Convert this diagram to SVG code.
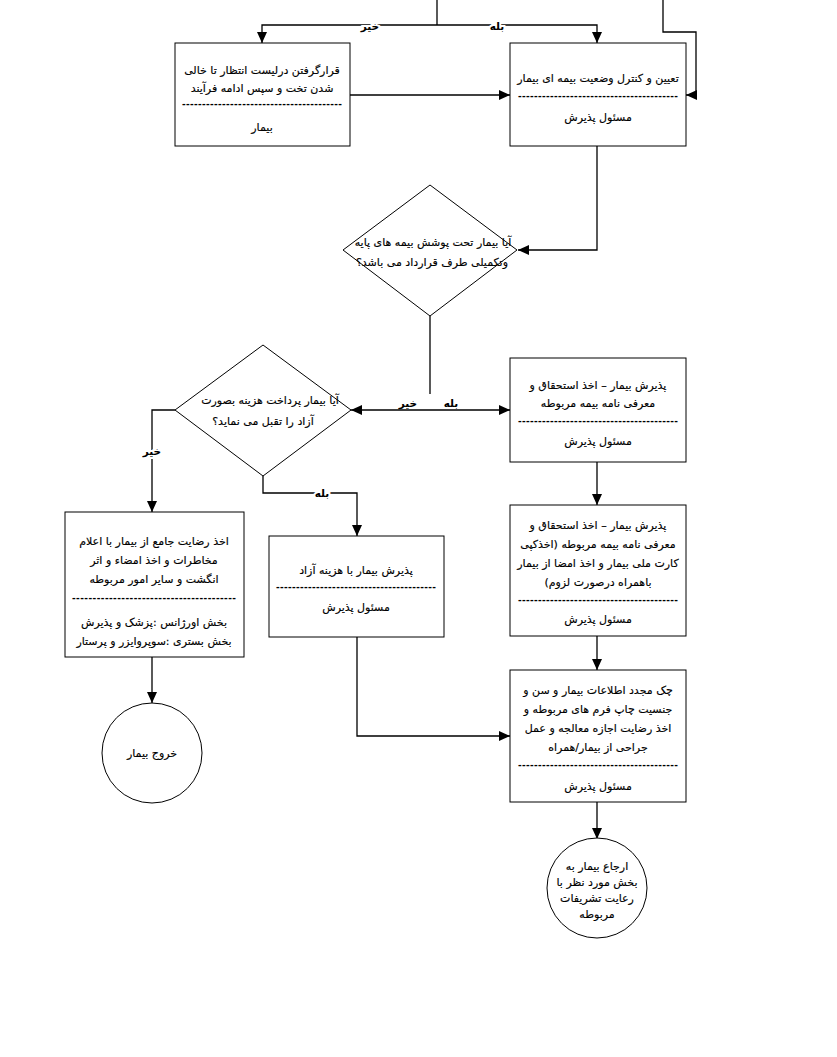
<svg xmlns="http://www.w3.org/2000/svg" width="837" height="1057" viewBox="0 0 837 1057">
<defs>
<style>
.box{fill:#fff;stroke:#000;stroke-width:1}
.t{font-family:"DejaVu Sans",sans-serif;font-size:11px;text-anchor:middle;direction:rtl;fill:#000;stroke:#000;stroke-width:0.15px}
.d{font-family:"Liberation Sans",sans-serif;font-size:11px;font-weight:bold;text-anchor:middle;fill:#000}
.lbl{font-family:"DejaVu Sans",sans-serif;font-size:10.5px;font-weight:bold;text-anchor:middle;direction:rtl;fill:#000}
.halo{paint-order:stroke;stroke:#fff;stroke-width:4px}
.c{fill:none;stroke:#000;stroke-width:1.3}
.a{marker-end:url(#arr)}
</style>
<marker id="arr" markerUnits="userSpaceOnUse" markerWidth="12" markerHeight="10" refX="11" refY="5" orient="auto">
<path d="M0,0 L11,5 L0,10 z" fill="#000"/>
</marker>
</defs>
<rect width="837" height="1057" fill="#fff"/>

<g id="connectors">
<path class="c" d="M437,0 V25"/>
<path class="c a" d="M437,25 H262 V43"/>
<path class="c a" d="M437,25 H597 V43"/>
<path class="c a" d="M663,0 V32 H696 V95 H686"/>
<path class="c a" d="M350,95 H510"/>
<path class="c a" d="M597,146 V250 H518"/>
<path class="c" d="M430,316 V394"/>
<path class="c a" d="M430,410 H351"/>
<path class="c a" d="M430,410 H510"/>
<path class="c a" d="M175,410 H152 V512"/>
<path class="c a" d="M263,476 V493 H357 V536"/>
<path class="c a" d="M597,462 V505"/>
<path class="c a" d="M597,636 V670"/>
<path class="c a" d="M357,637 V736 H510"/>
<path class="c a" d="M152,657 V703"/>
<path class="c a" d="M597,802 V839"/>
<text class="lbl halo" x="370" y="30">خیر</text>
<text class="lbl halo" x="497" y="30">بله</text>
<text class="lbl" x="408" y="407">خیر</text>
<text class="lbl" x="451" y="407">بله</text>
<text class="lbl halo" x="152" y="455">خیر</text>
<text class="lbl halo" x="322" y="497">بله</text>
</g>

<g id="n-waitlist">
<rect class="box" x="175" y="43" width="175" height="103"/>
<text class="t" x="262" y="74">قرارگرفتن درلیست انتظار تا خالی</text>
<text class="t" x="262" y="92">شدن تخت و سپس ادامه فرآیند</text>
<text class="d" x="262" y="107" textLength="160" lengthAdjust="spacing">----------------------------------------</text>
<text class="t" x="262" y="131">بیمار</text>
</g>

<g id="n-insurance-check">
<rect class="box" x="510" y="43" width="176" height="103"/>
<text class="t" x="598" y="82">تعیین و کنترل وضعیت بیمه ای بیمار</text>
<text class="d" x="598" y="99" textLength="160" lengthAdjust="spacing">----------------------------------------</text>
<text class="t" x="598" y="121">مسئول پذیرش</text>
</g>

<g id="n-decision-insurance">
<polygon class="box" points="430,185 517,250 430,316 343,250"/>
<text class="t" x="433" y="246">آیا بیمار تحت پوشش بیمه های پایه</text>
<text class="t" x="432" y="266">وتکمیلی طرف قرارداد می باشد؟</text>
</g>

<g id="n-decision-free">
<polygon class="box" points="263,345 351,410 263,476 175,410"/>
<text class="t" x="270" y="404">آیا بیمار پرداخت هزینه بصورت</text>
<text class="t" x="263" y="425">آزاد را تقبل می نماید؟</text>
</g>

<g id="n-admit-insured">
<rect class="box" x="510" y="358" width="176" height="104"/>
<text class="t" x="598" y="389">پذیرش بیمار – اخذ استحقاق و</text>
<text class="t" x="598" y="407">معرفی نامه بیمه مربوطه</text>
<text class="d" x="598" y="424" textLength="160" lengthAdjust="spacing">----------------------------------------</text>
<text class="t" x="598" y="445">مسئول پذیرش</text>
</g>

<g id="n-admit-insured-docs">
<rect class="box" x="510" y="505" width="176" height="131"/>
<text class="t" x="598" y="529">پذیرش بیمار – اخذ استحقاق و</text>
<text class="t" x="598" y="548">معرفی نامه بیمه مربوطه (اخذکپی</text>
<text class="t" x="598" y="567">کارت ملی بیمار و اخذ امضا از بیمار</text>
<text class="t" x="598" y="586">باهمراه درصورت لزوم)</text>
<text class="d" x="598" y="603" textLength="160" lengthAdjust="spacing">----------------------------------------</text>
<text class="t" x="598" y="623">مسئول پذیرش</text>
</g>

<g id="n-recheck">
<rect class="box" x="510" y="670" width="176" height="132"/>
<text class="t" x="598" y="694">چک مجدد اطلاعات بیمار و سن و</text>
<text class="t" x="598" y="713">جنسیت چاپ فرم های مربوطه و</text>
<text class="t" x="598" y="732">اخذ رضایت اجازه معالجه و عمل</text>
<text class="t" x="598" y="751">جراحی از بیمار/همراه</text>
<text class="d" x="598" y="768" textLength="160" lengthAdjust="spacing">----------------------------------------</text>
<text class="t" x="598" y="790">مسئول پذیرش</text>
</g>

<g id="n-consent">
<rect class="box" x="65" y="512" width="179" height="145"/>
<text class="t" x="154" y="545">اخذ رضایت جامع از بیمار با اعلام</text>
<text class="t" x="154" y="564">مخاطرات  و اخذ امضاء و اثر</text>
<text class="t" x="154" y="583">انگشت و سایر امور مربوطه</text>
<text class="d" x="154" y="601" textLength="164" lengthAdjust="spacing">----------------------------------------</text>
<text class="t" x="154" y="626">بخش اورژانس :پزشک و پذیرش</text>
<text class="t" x="154" y="645">بخش بستری :سوپروایزر و پرستار</text>
</g>

<g id="n-admit-free">
<rect class="box" x="269" y="536" width="175" height="101"/>
<text class="t" x="356" y="574">پذیرش بیمار با هزینه آزاد</text>
<text class="d" x="356" y="590" textLength="160" lengthAdjust="spacing">----------------------------------------</text>
<text class="t" x="356" y="611">مسئول پذیرش</text>
</g>

<g id="n-exit">
<circle class="box" cx="152" cy="753" r="50"/>
<text class="t" x="152" y="757">خروج بیمار</text>
</g>

<g id="n-refer">
<circle class="box" cx="597" cy="888" r="50"/>
<text class="t" x="597" y="870">ارجاع بیمار به</text>
<text class="t" x="597" y="886">بخش مورد نظر با</text>
<text class="t" x="597" y="902">رعایت تشریفات</text>
<text class="t" x="597" y="918">مربوطه</text>
</g>
</svg>
